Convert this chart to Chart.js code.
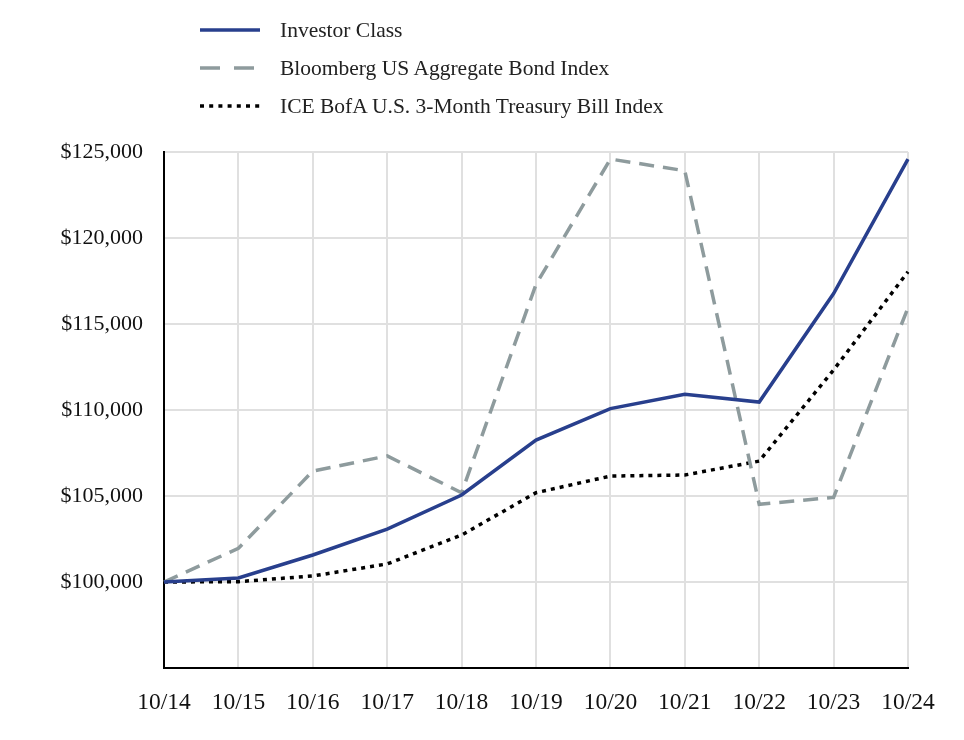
<!DOCTYPE html>
<html>
<head>
<meta charset="utf-8">
<script src="https://cdn.jsdelivr.net/npm/chart.js@4"></script>
<style>
  html, body { margin: 0; padding: 0; background: #fff; }
  #wrap { position: relative; width: 964px; height: 740px; }
  #chart { position: absolute; left: 0; top: 0; }
  #legend {
    position: absolute; left: 200px; top: 11px;
    font-family: 'Liberation Serif', serif; font-size: 21.5px; color: #222;
  }
  .legend-item { display: flex; align-items: center; height: 38px; }
  .legend-item svg { margin-right: 20px; }
</style>
</head>
<body>
<div id="wrap">
  <canvas id="chart" width="964" height="740"></canvas>
  <div id="legend"></div>
</div>
<script>
// ---- data ----
const LABELS = ['10/14', '10/15', '10/16', '10/17', '10/18', '10/19',
                '10/20', '10/21', '10/22', '10/23', '10/24'];

const INVESTOR  = [100000, 100230, 101570, 103070, 105060, 108250,
                   110080, 110920, 110460, 116770, 124590];
const BLOOMBERG = [100000, 101960, 106450, 107330, 105190, 117300,
                   124590, 123910, 104520, 104920, 115950];
const TBILL     = [100000, 100020, 100350, 101050, 102730, 105190,
                   106160, 106220, 107030, 112330, 118040];

const SERIES_NAMES = ['Investor Class', 'Bloomberg US Aggregate Bond Index',
                      'ICE BofA U.S. 3-Month Treasury Bill Index'];

const FONT = "'Liberation Serif', serif";

const fmtDollar = v => '$' + v.toLocaleString('en-US');

const datasets = [
  { label: SERIES_NAMES[0], data: INVESTOR,  borderColor: '#283f8d', borderDash: [] },
  { label: SERIES_NAMES[1], data: BLOOMBERG, borderColor: '#8e9b9d', borderDash: [15, 9] },
  { label: SERIES_NAMES[2], data: TBILL,     borderColor: '#000000', borderDash: [4, 5] },
].map(ds => ({
  ...ds,
  borderWidth: 3.5,
  pointRadius: 0,
  tension: 0,
  fill: false,
}));

const chart = new Chart(document.getElementById('chart'), {
  type: 'line',
  data: { labels: LABELS, datasets },
  options: {
    responsive: false,
    animation: false,
    layout: { padding: { top: 152, right: 56, left: 0, bottom: 0 } },
    plugins: { legend: { display: false }, tooltip: { enabled: false } },
    scales: {
      x: {
        offset: false,
        grid: { color: '#e0e0e0', lineWidth: 2, drawTicks: false },
        border: { color: '#000', width: 2 },
        ticks: { color: '#111', padding: 21, maxRotation: 0, autoSkip: false,
                 font: { family: FONT, size: 23.5 } },
        afterFit: s => { s.height = 72; }
      },
      y: {
        min: 95000,
        max: 125000,
        grid: { color: '#e0e0e0', lineWidth: 2, drawTicks: false },
        border: { color: '#000', width: 2 },
        ticks: {
          stepSize: 5000, color: '#111', padding: 21,
          font: { family: FONT, size: 22 },
          callback: v => v < 100000 ? '' : fmtDollar(v)
        },
        afterFit: s => { s.width = 164; }
      }
    }
  }
});

// ---- HTML legend, one item per row ----
const legend = document.getElementById('legend');
legend.innerHTML = chart.data.datasets.map(ds => `
  <div class="legend-item">
    <svg width="60" height="8">
      <line x1="0" y1="4" x2="60" y2="4" stroke="${ds.borderColor}" stroke-width="3.5"
            stroke-dasharray="${ds.borderDash.length ? (ds.borderDash[0] > 8 ? '20 14' : '4 5.2') : 'none'}"/>
    </svg>
    <span>${ds.label}</span>
  </div>
`).join('');
</script>
</body>
</html>
